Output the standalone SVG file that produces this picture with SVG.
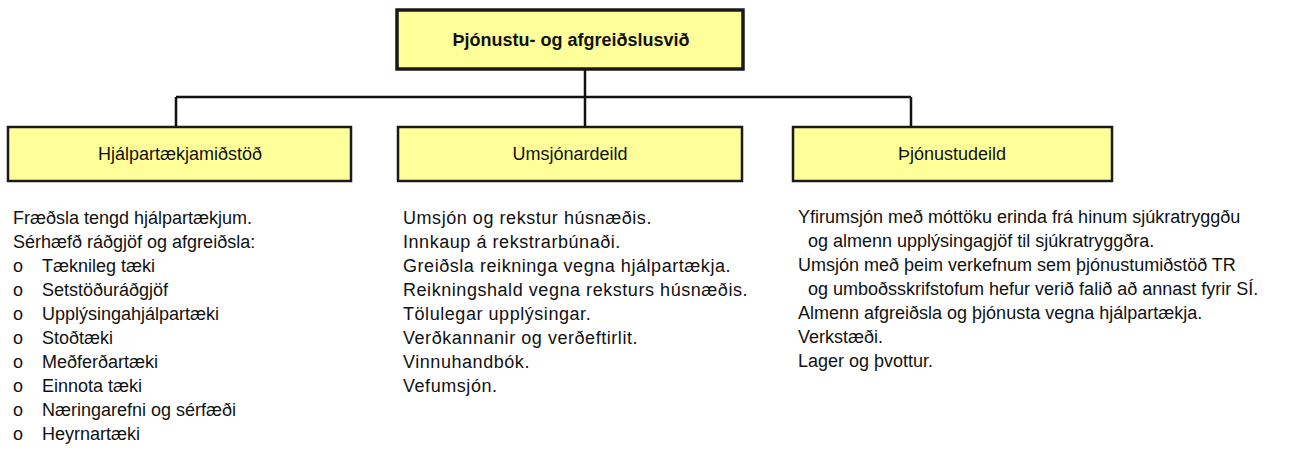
<svg xmlns="http://www.w3.org/2000/svg" width="1311" height="451" viewBox="0 0 1311 451">
<style>
.box{fill:#FFFF99;stroke:#1a1a1a;stroke-width:2.5}
.top{stroke-width:3.5}
.lbl{font-family:"Liberation Sans",Arial,sans-serif;font-size:18px;fill:#111;text-anchor:middle}
.b{font-weight:bold}
.t{font-family:"Liberation Sans",Arial,sans-serif;font-size:18px;fill:#111}
.w{letter-spacing:0.55px}
.ln{stroke:#111;stroke-width:2.5;fill:none}
</style>
<rect width="1311" height="451" fill="#fff"/>
<g id="connectors">
<path class="ln" d="M585 70V97M176 97H911M176 97V126M585 97V126M911 97V126"/>
</g>
<g id="n0">
<rect class="box top" x="397" y="10" width="346" height="59"/>
<text class="lbl b" x="571" y="46">Þjónustu- og afgreiðslusvið</text>
</g>
<g id="n1">
<rect class="box" x="8" y="127" width="343" height="54"/>
<text class="lbl" x="180" y="160">Hjálpartækjamiðstöð</text>
</g>
<g id="n2">
<rect class="box" x="398" y="127" width="344" height="54"/>
<text class="lbl" x="570" y="160">Umsjónardeild</text>
</g>
<g id="n3">
<rect class="box" x="793" y="127" width="319" height="54"/>
<text class="lbl" x="952" y="160">Þjónustudeild</text>
</g>
<g id="list1" class="t">
<text x="13" y="224">Fræðsla tengd hjálpartækjum.</text>
<text x="13" y="248">Sérhæfð ráðgjöf og afgreiðsla:</text>
<text x="13" y="272">o</text><text x="42" y="272">Tæknileg tæki</text>
<text x="13" y="296">o</text><text x="42" y="296">Setstöðuráðgjöf</text>
<text x="13" y="320">o</text><text x="42" y="320">Upplýsingahjálpartæki</text>
<text x="13" y="344">o</text><text x="42" y="344">Stoðtæki</text>
<text x="13" y="368">o</text><text x="42" y="368">Meðferðartæki</text>
<text x="13" y="392">o</text><text x="42" y="392">Einnota tæki</text>
<text x="13" y="416">o</text><text x="42" y="416">Næringarefni og sérfæði</text>
<text x="13" y="440">o</text><text x="42" y="440">Heyrnartæki</text>
</g>
<g id="list2" class="t w">
<text x="403" y="224">Umsjón og rekstur húsnæðis.</text>
<text x="403" y="248">Innkaup á rekstrarbúnaði.</text>
<text x="403" y="272">Greiðsla reikninga vegna hjálpartækja.</text>
<text x="403" y="296">Reikningshald vegna reksturs húsnæðis.</text>
<text x="403" y="320">Tölulegar upplýsingar.</text>
<text x="403" y="344">Verðkannanir og verðeftirlit.</text>
<text x="403" y="368">Vinnuhandbók.</text>
<text x="403" y="392">Vefumsjón.</text>
</g>
<g id="list3" class="t">
<text x="798" y="223">Yfirumsjón með móttöku erinda frá hinum sjúkratryggðu</text>
<text x="808" y="247">og almenn upplýsingagjöf til sjúkratryggðra.</text>
<text x="798" y="271">Umsjón með þeim verkefnum sem þjónustumiðstöð TR</text>
<text x="808" y="295">og umboðsskrifstofum hefur verið falið að annast fyrir SÍ.</text>
<text x="798" y="319">Almenn afgreiðsla og þjónusta vegna hjálpartækja.</text>
<text x="798" y="343">Verkstæði.</text>
<text x="798" y="367">Lager og þvottur.</text>
</g>
</svg>
